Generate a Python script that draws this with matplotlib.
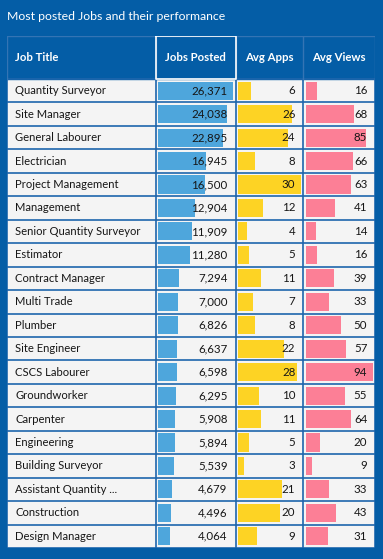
import matplotlib.pyplot as plt
from matplotlib.transforms import offset_copy

plt.rcParams['font.family'] = ['Lato', 'DejaVu Sans']

# data
job_titles = ["Quantity Surveyor", "Site Manager", "General Labourer", "Electrician",
              "Project Management", "Management", "Senior Quantity Surveyor", "Estimator",
              "Contract Manager", "Multi Trade", "Plumber", "Site Engineer", "CSCS Labourer",
              "Groundworker", "Carpenter", "Engineering", "Building Surveyor",
              "Assistant Quantity ...", "Construction", "Design Manager"]
jobs_posted = [26371, 24038, 22895, 16945, 16500, 12904, 11909, 11280, 7294, 7000,
               6826, 6637, 6598, 6295, 5908, 5894, 5539, 4679, 4496, 4064]
avg_apps = [6, 26, 24, 8, 30, 12, 4, 5, 11, 7, 8, 22, 28, 10, 11, 5, 3, 21, 20, 9]
avg_views = [16, 68, 85, 66, 63, 41, 14, 16, 39, 33, 50, 57, 94, 55, 64, 20, 9, 33, 43, 31]
headers = ["Job Title", "Jobs Posted", "Avg Apps", "Avg Views"]

BG = "#045DA6"
ROW_BG = "#F4F4F4"
GRID = "#1E66AD"
HEAD_GRID = "#3474B4"
BAR_COLORS = ["#4EA6DC", "#FDD324", "#FC7F96"]

W, H = 383, 559
fig = plt.figure(figsize=(W / 100, H / 100), dpi=100, facecolor=BG)

# layout in pixels
tleft, tright, ttop, hbot, tbot = 7.3, 375.3, 36, 79, 548
col_edges = [7.3, 155.7, 235.7, 303.3, 375.3]
n = len(job_titles)
row_h = (tbot - hbot) / n
hh = (hbot - ttop) / row_h

fig.text(7 / W, 1 - 17 / H, "Most posted Jobs and their performance", color="white",
         fontsize=8.8, va="center", ha="left")

ax = fig.add_axes([tleft / W, 1 - tbot / H, (tright - tleft) / W, (tbot - ttop) / H])
ax.set_xlim(tleft, tright)
ax.set_ylim(n - 0.5, -0.5 - hh)
ax.axis("off")
ax.axhspan(-0.5, n - 0.5, color=ROW_BG, zorder=0)
ax.axhspan(-0.5 - hh, -0.5, color=BG, zorder=0)

# grid lines
for i in range(n + 1):
    ax.plot([tleft, tright], [i - 0.5, i - 0.5], color=GRID, lw=1.2, zorder=3)
for x in col_edges:
    ax.plot([x, x], [-0.5, n - 0.5], color=GRID, lw=1.2, zorder=3)
    ax.plot([x, x], [-0.5 - hh, -0.5], color=HEAD_GRID, lw=1.0, zorder=3)
ax.plot([tleft, tright], [-0.5 - hh, -0.5 - hh], color=HEAD_GRID, lw=1.0, zorder=3)
# highlighted header cell
ax.plot([col_edges[1], col_edges[2], col_edges[2], col_edges[1], col_edges[1]],
        [-0.5 - hh, -0.5 - hh, -0.5, -0.5, -0.5 - hh], color="white", lw=1.2, zorder=4)

# headers
hy = -0.5 - hh / 2
ax.text(col_edges[0] + 8, hy, headers[0], color="white", fontsize=8.2,
        fontweight="bold", ha="left", va="center", zorder=5)
for c in range(1, 4):
    ax.text((col_edges[c] + col_edges[c + 1]) / 2, hy, headers[c], color="white",
            fontsize=8.2, fontweight="bold", ha="center", va="center", zorder=5)

for i, t in enumerate(job_titles):
    ax.text(col_edges[0] + 8, i, t, ha="left", va="center", fontsize=8.1,
            color="#161616", zorder=5)

# bars in their own axes per column, numbers on top of the bars
columns = [jobs_posted, avg_apps, avg_views]
for c, vals in enumerate(columns):
    x0 = col_edges[c + 1] + 2.5
    x1 = col_edges[c + 2] - 2.5
    bax = fig.add_axes([x0 / W, 1 - tbot / H, (x1 - x0) / W, (tbot - hbot) / H])
    bax.set_xlim(0, max(vals))
    bax.set_ylim(n - 0.5, -0.5)
    bax.axis("off")
    bax.patch.set_alpha(0)
    bax.barh(range(n), vals, height=0.77, color=BAR_COLORS[c], zorder=2)
    tr = offset_copy(bax.get_yaxis_transform(), fig=fig, x=-5.5, units="dots")
    for i, v in enumerate(vals):
        bax.text(1, i, f"{v:,}", transform=tr, ha="right", va="center",
                 fontsize=8.3, color="#161616", zorder=6)

fig.savefig("out.png", dpi=100, facecolor=BG)
